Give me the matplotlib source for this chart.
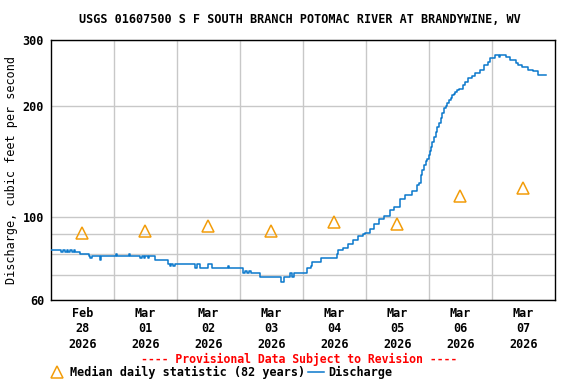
import matplotlib
matplotlib.use("Agg")
import matplotlib.pyplot as plt
import numpy as np

TITLE = "USGS 01607500 S F SOUTH BRANCH POTOMAC RIVER AT BRANDYWINE, WV"

# days since 2026-02-28 00:00
day_labels = ["Feb\n28\n2026", "Mar\n01\n2026", "Mar\n02\n2026", "Mar\n03\n2026",
              "Mar\n04\n2026", "Mar\n05\n2026", "Mar\n06\n2026", "Mar\n07\n2026"]

# median daily statistic (82 years), one per day
median_cfs = [91, 92, 95, 92, 97, 96, 114, 120]

# discharge breakpoints: hours since start, cfs (value holds until next hour)
q_hours = [0, 4.0, 4.6, 5.4, 6.0, 6.6, 7.2, 8.0, 8.6, 9.2, 10.9, 14.3, 15.0, 15.6,
           18.5, 18.9, 24.6, 25.0, 29.6, 30.2, 34.0, 34.6, 35.4, 36.0, 36.8, 37.4,
           39.8, 44.4, 45.2, 45.8, 46.6, 47.2, 55.0, 55.8, 56.6, 57.7, 60.0, 61.5,
           67.6, 68.0, 73.3, 74.0, 74.6, 75.6, 76.2, 79.8, 87.8, 88.6, 91.2, 92.0,
           92.6, 93.9, 97.7, 98.9, 99.6, 102.7, 109.0, 109.5, 111.4, 113.0, 114.9,
           116.8, 118.7, 119.8, 121.7, 122.9, 124.8, 126.7, 129.3, 130.5, 133.1,
           135.0, 137.7, 139.6, 140.1, 140.8, 141.1, 141.4, 142.0, 142.7, 143.3,
           143.9, 144.3, 144.6, 145.2, 145.8, 146.5, 147.1, 147.8, 148.4, 149.0,
           149.6, 150.3, 150.9, 151.5, 152.2, 152.8, 153.5, 154.1, 154.8, 155.4,
           157.1, 157.9, 159.0, 160.2, 161.7, 163.6,
           164.8, 166.3, 167.4, 169.3, 170.5, 171.0, 173.2, 175.0, 177.0, 178.1,
           179.6, 181.9, 183.8, 185.7, 188.4]
q_cfs = [82, 81, 82, 81, 82, 81, 82, 81, 82, 81, 80, 79, 78, 79,
         77, 79, 80, 79, 80, 79, 78, 79, 78, 79, 78, 79,
         77, 75, 74, 75, 74, 75, 73, 75, 73, 73, 75, 73,
         74, 73, 71, 72, 71, 72, 71, 69, 67, 69, 71, 69,
         71, 71, 73, 74, 76, 78, 80, 82, 83, 85, 87,
         89, 90, 91, 93, 96, 99, 101, 105, 107, 112,
         115, 118, 122, 124, 127, 130, 134, 138, 142, 144,
         147, 151, 155, 160, 165, 170, 175, 180, 185, 191,
         197, 200, 203, 207, 210, 213, 215, 217, 220, 222,
         227, 232, 237, 240, 244, 249,
         257, 262, 268, 273, 270, 273, 270, 265, 261, 257,
         254, 249, 247, 242, 242]

orange = "#f29d0a"
blue = "#0a78cc"

plt.rcParams["font.family"] = ["DejaVu Sans Mono"]
plt.rcParams["font.weight"] = "bold"

fig = plt.figure(figsize=(5.76, 3.84), dpi=100)
ax = fig.add_axes([0.0885, 0.2188, 0.875, 0.677])

x_q = np.array(q_hours) / 24.0
ax.step(x_q, q_cfs, where="post", color=blue, lw=1.1, label="Discharge", zorder=3)

x_med = np.arange(len(median_cfs)) + 0.5
ax.plot(x_med, median_cfs, ls="none", marker="^", ms=8, mfc="none", mec=orange,
        mew=1.1, label="Median daily statistic (82 years)", zorder=4)

ax.set_yscale("log")
ax.set_ylim(60, 300)
ax.set_xlim(0, 8)

ax.set_yticks([60, 100, 200, 300])
ax.set_yticklabels(["60", "100", "200", "300"])
ax.set_yticks([70, 80, 90], minor=True)
ax.yaxis.set_minor_formatter(plt.NullFormatter())
ax.set_xticks(x_med)
ax.set_xticklabels(day_labels, linespacing=1.25)
ax.set_xticks(np.arange(1, 8), minor=True)

ax.grid(True, which="both", color="#c8c8c8", lw=1)
ax.grid(False, which="major", axis="x")
ax.set_axisbelow(True)
ax.tick_params(which="both", length=0, labelsize=8.5, pad=5)
for s in ax.spines.values():
    s.set_color("black")
    s.set_linewidth(1)

ax.set_ylabel("Discharge, cubic feet per second", fontsize=8.5, labelpad=3)
fig.text(0.52, 0.95, TITLE, ha="center", va="center", fontsize=8.5)
fig.text(0.52, 0.065, "---- Provisional Data Subject to Revision ----",
         ha="center", va="center", fontsize=8.3, color="red")

h, l = ax.get_legend_handles_labels()
fig.legend(h[::-1], l[::-1], loc="center left", bbox_to_anchor=(0.078, 0.03),
           ncol=2, frameon=False, fontsize=8.5, handlelength=1.3,
           handletextpad=0.4, columnspacing=0.3, borderaxespad=0)

fig.savefig("out.png", dpi=100)
